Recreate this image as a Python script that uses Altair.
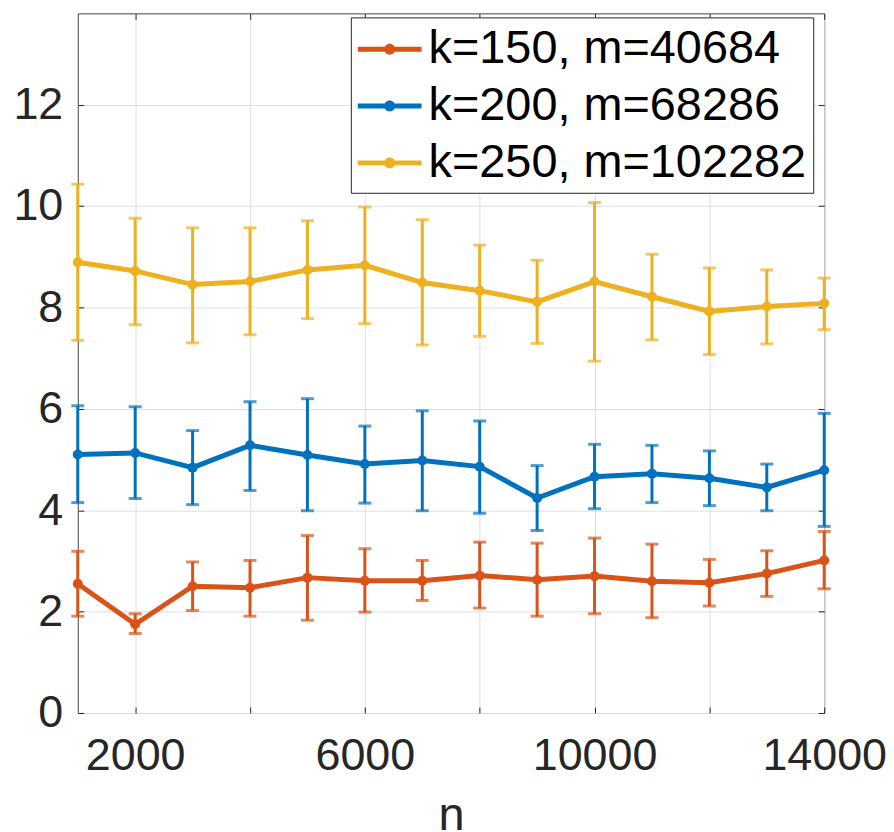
import altair as alt
import pandas as pd

n = [1000, 2000, 3000, 4000, 5000, 6000, 7000, 8000, 9000, 10000, 11000, 12000, 13000, 14000]
series = ["k=150, m=40684", "k=200, m=68286", "k=250, m=102282"]
colors = ["#D95319", "#0072BD", "#EDB120"]

k150_mean = [2.55, 1.75, 2.50, 2.47, 2.67, 2.61, 2.61, 2.71, 2.63, 2.70, 2.60, 2.57, 2.75, 3.01]
k150_lo = [1.91, 1.57, 2.02, 1.91, 1.83, 1.99, 2.22, 2.07, 1.91, 1.96, 1.88, 2.11, 2.30, 2.45]
k150_hi = [3.19, 1.96, 2.98, 3.01, 3.50, 3.24, 3.01, 3.37, 3.35, 3.45, 3.33, 3.03, 3.20, 3.58]

k200_mean = [5.10, 5.13, 4.84, 5.28, 5.09, 4.91, 4.98, 4.86, 4.24, 4.66, 4.72, 4.63, 4.45, 4.79]
k200_lo = [4.15, 4.23, 4.11, 4.39, 3.99, 4.14, 3.99, 3.94, 3.60, 4.03, 4.15, 4.09, 3.99, 3.68]
k200_hi = [6.06, 6.04, 5.57, 6.14, 6.20, 5.66, 5.96, 5.76, 4.88, 5.30, 5.28, 5.17, 4.91, 5.91]

k250_mean = [8.89, 8.72, 8.45, 8.51, 8.74, 8.83, 8.49, 8.33, 8.11, 8.51, 8.21, 7.92, 8.02, 8.08]
k250_lo = [7.35, 7.66, 7.30, 7.46, 7.78, 7.68, 7.26, 7.43, 7.29, 6.94, 7.36, 7.07, 7.28, 7.56]
k250_hi = [10.43, 9.76, 9.57, 9.57, 9.71, 9.98, 9.73, 9.23, 8.93, 10.07, 9.05, 8.78, 8.74, 8.58]

x_ticks = [2000, 4000, 6000, 8000, 10000, 12000, 14000]
y_ticks = [0, 2, 4, 6, 8, 10, 12]

rows = []
for name, m, lo, hi in zip(series, [k150_mean, k200_mean, k250_mean],
                           [k150_lo, k200_lo, k250_lo], [k150_hi, k200_hi, k250_hi]):
    for xi, mi, li, hi_ in zip(n, m, lo, hi):
        rows.append({"n": xi, "mean": mi, "lo": li, "hi": hi_, "series": name})
df = pd.DataFrame(rows)

FONT = "Liberation Sans"
TXT = "#262626"

xscale = alt.Scale(domain=[1000, 14000], nice=False, zero=False)
yscale = alt.Scale(domain=[0, 13.8], nice=False, zero=False)

xaxis = alt.Axis(values=x_ticks, format="d", grid=True, gridColor="#dfdfdf",
                 labelExpr="datum.value % 4000 == 2000 ? datum.label : ''",
                 domain=False, offset=-6, tickSize=6, tickColor=TXT,
                 labelFontSize=45, labelFont=FONT, labelColor=TXT, labelPadding=21,
                 title="n", titleFontSize=47, titleFont=FONT, titleColor=TXT,
                 titleFontWeight="normal", titlePadding=14, labelFlush=False)
yaxis = alt.Axis(values=y_ticks, format="d", grid=True, gridColor="#dfdfdf",
                 domain=False, offset=-6, tickSize=6, tickColor=TXT,
                 labelFontSize=45, labelFont=FONT, labelColor=TXT, labelPadding=15,
                 title=None, labelFlush=False)

# legend glyph: a line with a dot, left edge at -1, 64 px wide for symbolSize 2500 (r = 25 px)
sym = ("M-1,-0.1H1.56V0.1H-1Z "
       "M0.5,0A0.22,0.22,0,1,1,0.06,0A0.22,0.22,0,1,1,0.5,0Z")
legend = alt.Legend(title=None, orient="none", legendX=274, legendY=4,
                    symbolType=sym, symbolSize=2500, symbolStrokeWidth=0,
                    labelFontSize=47, labelFont=FONT, labelColor="#000000",
                    labelOffset=21, padding=7, rowPadding=9, symbolOpacity=1,
                    strokeColor="#262626", fillColor="#ffffff",
                    labelLimit=600)

color = alt.Color("series:N", scale=alt.Scale(domain=series, range=colors), legend=legend)

base = alt.Chart(df)

pts = base.mark_point(filled=True, size=100, opacity=1).encode(
    x=alt.X("n:Q", scale=xscale, axis=xaxis), y=alt.Y("mean:Q", scale=yscale, axis=yaxis),
    color=color,
)
rules = base.mark_rule(strokeWidth=3).encode(
    x=alt.X("n:Q", scale=xscale, axis=xaxis),
    y=alt.Y("lo:Q", scale=yscale, axis=yaxis),
    y2="hi:Q",
    color=color,
)
caps_lo = base.mark_tick(orient="horizontal", size=13, thickness=3).encode(
    x=alt.X("n:Q", scale=xscale, axis=xaxis), y=alt.Y("lo:Q", scale=yscale, axis=yaxis),
    color=color,
)
caps_hi = base.mark_tick(orient="horizontal", size=13, thickness=3).encode(
    x=alt.X("n:Q", scale=xscale, axis=xaxis), y=alt.Y("hi:Q", scale=yscale, axis=yaxis),
    color=color,
)
line = base.mark_line(strokeWidth=5).encode(
    x=alt.X("n:Q", scale=xscale, axis=xaxis), y=alt.Y("mean:Q", scale=yscale, axis=yaxis),
    color=color,
)

main = alt.layer(rules, caps_lo, caps_hi, line, pts)

frame = base.mark_point(opacity=0).encode(
    x=alt.X("n:Q", scale=xscale,
            axis=alt.Axis(orient="top", values=x_ticks, labels=False, grid=False, domain=False,
                          offset=-6, tickSize=6, tickColor=TXT, title=None)),
    y=alt.Y("mean:Q", scale=yscale,
            axis=alt.Axis(orient="right", values=y_ticks, labels=False, grid=False, domain=False,
                          offset=-6, tickSize=6, tickColor=TXT, title=None)),
)

chart = alt.layer(main, frame).resolve_axis(
    x="independent", y="independent"
).properties(
    width=749, height=702,
    autosize=alt.AutoSizeParams(type="none"),
    padding={"left": 70, "top": 4, "right": 62, "bottom": 116},
).configure_view(stroke="#404040", strokeWidth=1)

chart.save("out.html", embed_options={"renderer": "svg", "actions": False})
